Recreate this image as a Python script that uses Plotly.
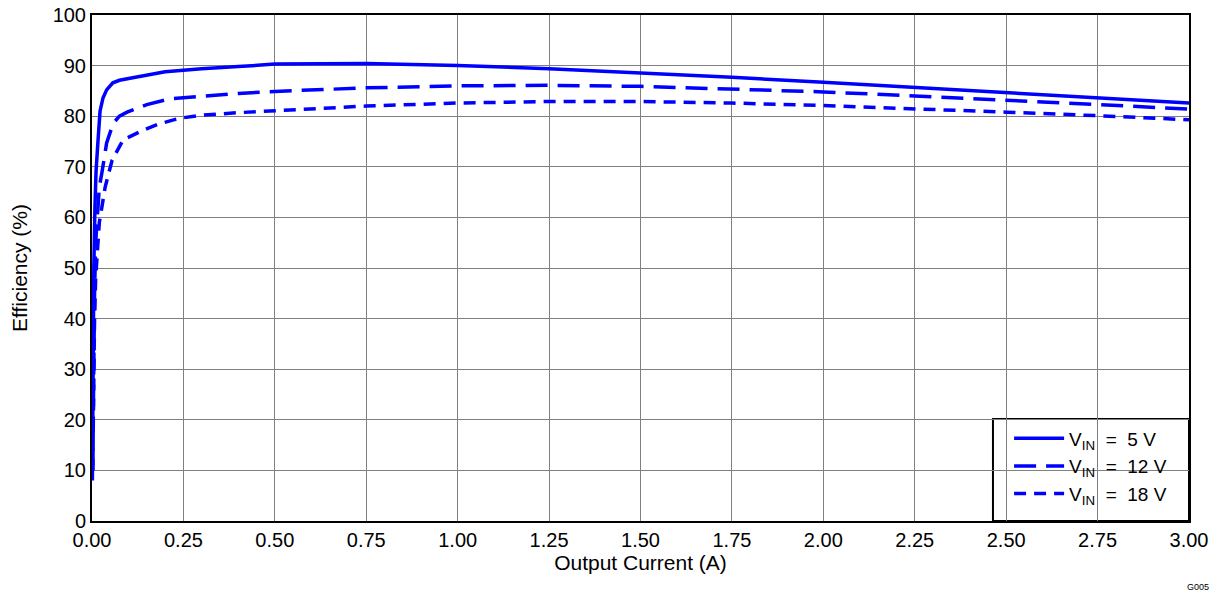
import plotly.graph_objects as go

# Output current (A)
x_5v = [0.001, 0.002, 0.003, 0.005, 0.008, 0.011, 0.016, 0.022, 0.03, 0.04, 0.057, 0.075, 0.104,
        0.15, 0.2, 0.25, 0.3, 0.4, 0.5, 0.75, 1.0, 1.25, 1.5, 1.75, 2.0, 2.25, 2.5, 2.75, 3.0]
eff_5v = [8, 20, 35, 50, 62, 69, 74.7, 81, 83.6, 85.2, 86.6, 87.1, 87.5,
          88.2, 88.8, 89.1, 89.4, 89.8, 90.3, 90.4, 90.0, 89.4, 88.6, 87.7, 86.7, 85.7, 84.6, 83.6, 82.6]

x_12v = [0.002, 0.003, 0.005, 0.007, 0.01, 0.015, 0.02, 0.027, 0.04, 0.058, 0.075, 0.096,
         0.15, 0.21, 0.3, 0.4, 0.5, 0.65, 0.75, 1.0, 1.25, 1.5, 1.75, 2.0, 2.25, 2.5, 2.75, 3.0]
eff_12v = [10, 20, 35, 45, 55, 62, 66, 68.8, 74.7, 78.6, 80.0, 80.8,
           82.3, 83.4, 84.0, 84.5, 84.9, 85.4, 85.6, 86.0, 86.1, 85.9, 85.4, 84.8, 84.0, 83.2, 82.3, 81.4]

x_18v = [0.002, 0.003, 0.005, 0.007, 0.01, 0.015, 0.02, 0.027, 0.036, 0.055, 0.085, 0.13,
         0.18, 0.24, 0.3, 0.4, 0.5, 0.63, 0.75, 1.0, 1.25, 1.5, 1.75, 2.0, 2.25, 2.5, 2.75, 3.0]
eff_18v = [10, 18, 30, 40, 48, 55, 59, 62, 66, 71.3, 75.3, 76.9,
           78.4, 79.6, 80.2, 80.7, 81.1, 81.6, 82.0, 82.6, 82.9, 82.9, 82.6, 82.1, 81.5, 80.8, 80.1, 79.3]

series_names = ["V<sub>IN</sub>  =  5 V", "V<sub>IN</sub>  =  12 V", "V<sub>IN</sub>  =  18 V"]
x_ticks = [0, 0.25, 0.5, 0.75, 1.0, 1.25, 1.5, 1.75, 2.0, 2.25, 2.5, 2.75, 3.0]
x_tick_labels = ["0.00", "0.25", "0.50", "0.75", "1.00", "1.25", "1.50", "1.75",
                 "2.00", "2.25", "2.50", "2.75", "3.00"]
y_ticks = [0, 10, 20, 30, 40, 50, 60, 70, 80, 90, 100]

FONT = "Liberation Sans, Arial, Helvetica, sans-serif"
BLUE = "#0000ff"

fig = go.Figure()
for xs, ys, name, dash in [(x_5v, eff_5v, series_names[0], "solid"),
                           (x_12v, eff_12v, series_names[1], "22px,10px"),
                           (x_18v, eff_18v, series_names[2], "12px,8px")]:
    fig.add_trace(go.Scatter(x=xs, y=ys, mode="lines", name=name,
                             line=dict(color=BLUE, width=3.5, dash=dash)))

fig.update_layout(
    width=1212, height=586,
    margin=dict(l=84, r=31, t=7, b=73, autoexpand=False),
    paper_bgcolor="white", plot_bgcolor="white",
    font=dict(family=FONT, size=20, color="black"),
    showlegend=True,
    legend=dict(x=0.836, y=0.108, xanchor="left", yanchor="middle",
                borderwidth=0, bgcolor="rgba(0,0,0,0)",
                font=dict(size=19), tracegroupgap=0,
                itemwidth=50),
    xaxis=dict(range=[0, 3], tickvals=x_ticks, ticktext=x_tick_labels,
               showgrid=True, gridcolor="#808080", gridwidth=1,
               showline=True, linecolor="black", linewidth=2, mirror=True,
               ticks="", zeroline=False, automargin=False, ticklabeloverflow="allow",
               tickfont=dict(size=20),
               title=dict(text="Output Current (A)", standoff=0, font=dict(size=21))),
    yaxis=dict(range=[0, 100], tickvals=y_ticks,
               showgrid=True, gridcolor="#808080", gridwidth=1,
               showline=True, linecolor="black", linewidth=2, mirror=True,
               ticks="", zeroline=False, automargin=False, ticklabeloverflow="allow",
               tickfont=dict(size=20),
               title=dict(text="Efficiency (%)", standoff=35, font=dict(size=21))),
    shapes=[dict(type="rect", xref="paper", yref="paper",
                 x0=0.8213, x1=1.0, y0=0.0, y1=0.2016,
                 line=dict(color="black", width=2), fillcolor="white", layer="below")],
)

fig.add_annotation(text="G005", xref="paper", yref="paper", x=1.0, y=0,
                   xshift=22, yshift=-66, xanchor="right", yanchor="middle",
                   showarrow=False, font=dict(size=9, family=FONT, color="black"))

fig.write_html("out.html")
